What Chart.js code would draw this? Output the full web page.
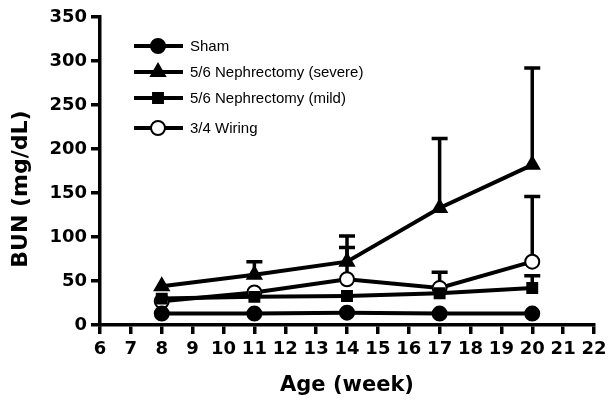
<!DOCTYPE html>
<html lang="en">
<head>
<meta charset="UTF-8">
<title>BUN</title>
<script src="https://cdn.jsdelivr.net/npm/chart.js@4.4.0/dist/chart.umd.min.js"></script>
<style>
  html, body { margin: 0; padding: 0; background: #fff; }
  #wrap { width: 608px; height: 406px; }
</style>
</head>
<body>
<div id="wrap"><canvas id="myChart" width="608" height="406"></canvas></div>
<script>
// weeks
const weeks = [8, 11, 14, 17, 20];
// mean BUN values
const sham = [13, 13, 14, 13, 13];
const severe = [44, 57, 72, 133, 182];
const mild = [30, 32, 33, 36, 42];
const wiring = [27, 37, 52, 42, 72];
// upper end of error bars
const shamErr = [15, 15, 16, 15, 15];
const severeErr = [53, 72, 101, 212, 292];
const mildErr = [32, 34, 35, 39, 56];
const wiringErr = [29, 39, 88, 60, 146];
const seriesLabels = ['Sham', '5/6 Nephrectomy (severe)', '5/6 Nephrectomy (mild)', '3/4 Wiring'];
const yTicks = [0, 50, 100, 150, 200, 250, 300, 350];
const yTitle = 'BUN (mg/dL)';
const xTitle = 'Age (week)';

function pts(vals) { return weeks.map((w, i) => ({x: w, y: vals[i]})); }

const errs = [shamErr, severeErr, mildErr, wiringErr];
const bold = { family: '"DejaVu Sans", sans-serif', weight: 'bold' };

// error bars, drawn behind the markers
const errorBars = {
    id: 'errorBars',
    beforeDatasetsDraw(chart) {
        const ctx = chart.ctx, xs = chart.scales.x, ys = chart.scales.y;
        ctx.save();
        ctx.strokeStyle = '#000';
        ctx.lineWidth = 3.5;
        chart.data.datasets.forEach((ds, d) => {
            ds.data.forEach((p, i) => {
                const x = xs.getPixelForValue(p.x);
                const y0 = ys.getPixelForValue(p.y);
                const y1 = ys.getPixelForValue(errs[d][i]);
                if (y0 - y1 < 8) return;
                ctx.beginPath();
                ctx.moveTo(x, y0); ctx.lineTo(x, y1);
                ctx.moveTo(x - 8, y1); ctx.lineTo(x + 8, y1);
                ctx.stroke();
            });
        });
        ctx.restore();
    }
};

// legend inside the plot + y title
const legendRows = [46, 72, 98, 128];
const ownLegend = {
    id: 'ownLegend',
    afterDraw(chart) {
        const ctx = chart.ctx;
        ctx.save();
        chart.data.datasets.forEach((ds, d) => {
            const y = legendRows[d];
            ctx.strokeStyle = '#000';
            ctx.lineWidth = 4;
            ctx.beginPath(); ctx.moveTo(134, y); ctx.lineTo(183, y); ctx.stroke();
            ctx.fillStyle = ds.pointBackgroundColor;
            ctx.lineWidth = 2;
            Chart.helpers.drawPoint(ctx, {
                pointStyle: ds.pointStyle, radius: ds.pointRadius, borderWidth: 2
            }, 158, y);
            ctx.fillStyle = '#000';
            ctx.font = '15px "Liberation Sans", Arial, sans-serif';
            ctx.textBaseline = 'middle';
            ctx.textAlign = 'left';
            ctx.fillText(ds.label, 190, y + 1);
        });
        // y axis title
        ctx.translate(21, 189);
        ctx.rotate(-Math.PI / 2);
        ctx.font = 'bold 22px "DejaVu Sans", sans-serif';
        ctx.textAlign = 'center';
        ctx.textBaseline = 'middle';
        ctx.fillText(yTitle, 0, 0);
        ctx.restore();
    }
};

function mk(label, vals, style, fill, r) {
    return {
        label: label,
        data: pts(vals),
        borderColor: '#000',
        borderWidth: 4,
        pointStyle: style,
        pointRadius: r,
        pointBorderWidth: 2,
        pointBackgroundColor: fill,
        pointBorderColor: '#000',
        tension: 0
    };
}

const ctx = document.getElementById('myChart').getContext('2d');
const myChart = new Chart(ctx, {
    type: 'line',
    data: {
        datasets: [
            mk(seriesLabels[0], sham, 'circle', '#000', 7),
            mk(seriesLabels[1], severe, 'triangle', '#000', 8),
            mk(seriesLabels[2], mild, 'rect', '#000', 7),
            mk(seriesLabels[3], wiring, 'circle', '#fff', 7)
        ]
    },
    options: {
        responsive: false,
        animation: false,
        devicePixelRatio: 1,
        layout: { padding: { top: 17, right: 14, left: 0, bottom: 0 } },
        plugins: { legend: { display: false }, tooltip: { enabled: false } },
        scales: {
            x: {
                type: 'linear', min: 6, max: 22,
                afterFit: s => { s.height = 81; s.paddingRight = 0; },
                ticks: { stepSize: 1, color: '#000', padding: 5, autoSkip: false,
                    maxRotation: 0, minRotation: 0,
                    font: Object.assign({ size: 18 }, bold) },
                grid: { drawOnChartArea: false, drawTicks: true, tickLength: 9, color: '#000', lineWidth: 3.5 },
                border: { color: '#000', width: 3.5 },
                title: { display: true, text: xTitle, color: '#000', padding: { top: 0, bottom: 8 },
                    font: Object.assign({ size: 21 }, bold) }
            },
            y: {
                min: 0, max: 350,
                afterFit: s => { s.width = 100; },
                afterBuildTicks: s => { s.ticks = yTicks.map(v => ({value: v})); },
                ticks: { color: '#000', padding: 4,
                    font: Object.assign({ size: 18 }, bold) },
                grid: { drawOnChartArea: false, drawTicks: true, tickLength: 9, color: '#000', lineWidth: 3.5 },
                border: { color: '#000', width: 3.5 }
            }
        }
    },
    plugins: [errorBars, ownLegend]
});
</script>
</body>
</html>
